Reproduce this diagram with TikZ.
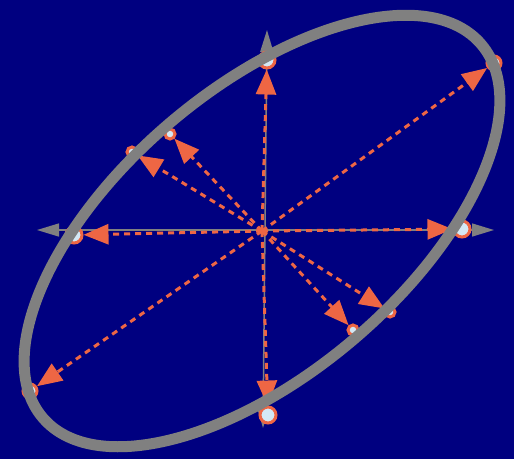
\documentclass[tikz,border=0pt]{standalone}
\usetikzlibrary{arrows.meta}
\definecolor{bg}{RGB}{0,0,128}
\definecolor{ell}{RGB}{128,128,128}
\definecolor{orng}{RGB}{238,102,68}
\definecolor{dotfill}{RGB}{212,232,245}
\begin{document}
\begin{tikzpicture}[x=1pt,y=-1pt,
  axisline/.style={draw=ell, line width=1.5pt, {Triangle[length=22pt,width=13pt]}-{Triangle[length=22pt,width=13pt]}},
  vec/.style={draw=orng, line width=3pt, dash pattern=on 6pt off 5pt, -{Triangle[length=25pt,width=20pt]}},
  dotbase/.style={circle, draw=orng, fill=dotfill, line width=3pt, inner sep=0pt},
  dotbig/.style={dotbase, minimum size=16pt},
  dotmid/.style={dotbase, minimum size=14pt},
  dotsmall/.style={dotbase, minimum size=10pt},
  ellring/.style={draw=ell, line width=11pt}
]
\useasboundingbox (0,0) rectangle (514,459);
\fill[bg] (0,0) rectangle (514,459);

\coordinate (c) at (262,231);
\coordinate (axl) at (37,230);
\coordinate (axr) at (494,230);
\coordinate (axt) at (267,30);
\coordinate (axb) at (263,428);

\draw[axisline] (axl) -- (axr);
\draw[axisline] (axt) -- (axb);

\node[dotbig]   (p1)  at (267,60)  {};
\node[dotmid]   (p2)  at (494,63)  {};
\node[dotbig]   (p3)  at (462,229) {};
\node[dotsmall] (p4)  at (390,312) {};
\node[dotsmall] (p5)  at (353,330) {};
\node[dotbig]   (p6)  at (268,415) {};
\node[dotmid]   (p7)  at (30,391)  {};
\node[dotbig]   (p8)  at (74,235)  {};
\node[dotsmall] (p9)  at (132,152) {};
\node[dotsmall] (p10) at (170,134) {};

\foreach \p in {p1,p2,p3,p4,p5,p6,p7,p8,p9,p10}
  \draw[vec] (c) -- (\p);

\draw[ellring, rotate around={40.4:(c)}] (c) ellipse [x radius=288pt, y radius=142pt];
\end{tikzpicture}
\end{document}
